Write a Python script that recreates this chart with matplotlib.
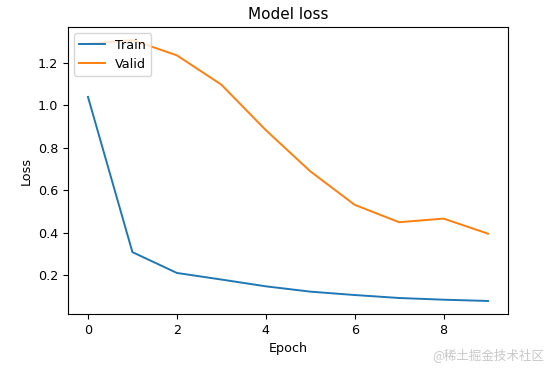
import matplotlib
matplotlib.use("Agg")
from matplotlib import pyplot as plt

# ─── data ────────────────────────────────────────────────────────────
epochs     = [0, 1, 2, 3, 4, 5, 6, 7, 8, 9]
train_loss = [1.040, 0.309, 0.211, 0.180, 0.148, 0.123, 0.107, 0.093, 0.085, 0.079]
valid_loss = [1.290, 1.308, 1.236, 1.098, 0.884, 0.690, 0.532, 0.450, 0.467, 0.396]

# ─── figure ──────────────────────────────────────────────────────────
fig = plt.figure(figsize=(5.5, 3.71), dpi=100)
ax  = fig.add_axes([0.1236, 0.1536, 0.80, 0.7736])

ax.plot(epochs, train_loss, color="#1f77b4", lw=1.4, label="Train")
ax.plot(epochs, valid_loss, color="#ff7f0e", lw=1.4, label="Valid")

ax.set_title("Model loss", fontsize=11)
ax.set_xlabel("Epoch", fontsize=9.2)
ax.set_ylabel("Loss", fontsize=9.2)
ax.tick_params(labelsize=9.2)
ax.set_xticks([0, 2, 4, 6, 8])
ax.set_yticks([0.2, 0.4, 0.6, 0.8, 1.0, 1.2])
ax.legend(loc="upper left", fontsize=9.2)

# watermark
fig.text(0.99, 0.025, "@稀土掘金技术社区", ha="right", va="bottom",
         fontsize=9, color="#c8c8c8",
         family=["Noto Sans CJK SC", "DejaVu Sans"])

plt.savefig("out.png", dpi=100)
